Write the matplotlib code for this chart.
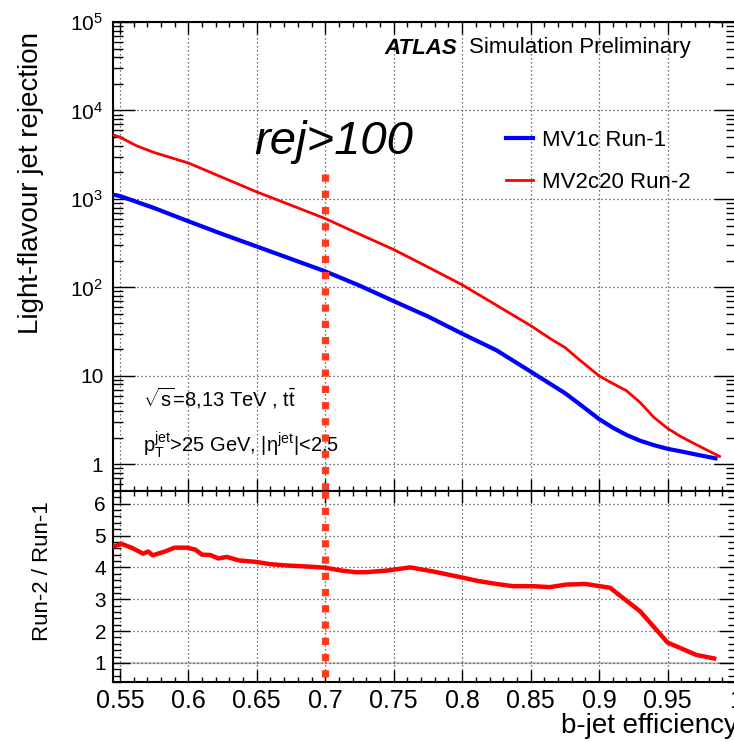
import matplotlib
matplotlib.use("Agg")
import matplotlib.pyplot as plt
from matplotlib.ticker import FixedLocator, FixedFormatter, MultipleLocator, LogLocator, NullFormatter
import numpy as np

# ---------------- data ----------------
eff = [0.545, 0.55, 0.575, 0.6, 0.625, 0.65, 0.675, 0.7, 0.725, 0.75, 0.775, 0.8,
       0.825, 0.85, 0.865, 0.875, 0.885, 0.9, 0.91, 0.92, 0.93, 0.94, 0.95, 0.96,
       0.97, 0.985]
rej_mv1c = [1120, 1080, 790, 560, 400, 290, 210, 152, 105, 70, 47, 30,
            19.5, 11.2, 8.0, 6.4, 4.9, 3.25, 2.6, 2.15, 1.85, 1.65, 1.5, 1.4,
            1.3, 1.17]
eff_mv2 = [0.545, 0.55, 0.562, 0.575, 0.6, 0.625, 0.65, 0.675, 0.7, 0.725, 0.75, 0.775, 0.8,
           0.825, 0.85, 0.865, 0.875, 0.885, 0.9, 0.91, 0.92, 0.93, 0.94, 0.95, 0.96,
           0.97, 0.988]
rej_mv2c20 = [5300, 5000, 4000, 3350, 2550, 1750, 1200, 850, 600, 400, 268, 170, 107,
              63, 37, 26, 21, 15.5, 10, 8.2, 6.8, 5.0, 3.4, 2.55, 2.05,
              1.7, 1.23]

ratio_eff = [0.545, 0.5513, 0.559, 0.567, 0.5706, 0.574, 0.583, 0.590, 0.599, 0.605,
             0.61, 0.616, 0.622, 0.628, 0.637, 0.65, 0.66, 0.672, 0.69, 0.7, 0.712,
             0.722, 0.73, 0.745, 0.762, 0.779, 0.798, 0.812, 0.825, 0.837, 0.852,
             0.864, 0.876, 0.89, 0.908, 0.93, 0.95, 0.971, 0.984]
ratio = [4.65, 4.74, 4.61, 4.43, 4.50, 4.38, 4.50, 4.62, 4.62, 4.56,
         4.40, 4.39, 4.28, 4.33, 4.22, 4.17, 4.10, 4.06, 4.02, 3.99, 3.90,
         3.85, 3.85, 3.90, 4.00, 3.87, 3.70, 3.57, 3.48, 3.41, 3.41,
         3.38, 3.46, 3.48, 3.36, 2.62, 1.64, 1.25, 1.14]

cut_eff = 0.7
cut_top = 1900

xticks = [0.55, 0.6, 0.65, 0.7, 0.75, 0.8, 0.85, 0.9, 0.95, 1.0]
xticklabels = ["0.55", "0.6", "0.65", "0.7", "0.75", "0.8", "0.85", "0.9", "0.95", "1"]
yticks_top = [1, 10, 100, 1000, 10000, 100000]
yticklabels_top = ["1", "10", r"$10^{2}$", r"$10^{3}$", r"$10^{4}$", r"$10^{5}$"]
yticks_bot = [1, 2, 3, 4, 5, 6]

# ---------------- style ----------------
plt.rcParams['font.family'] = ['Liberation Sans', 'DejaVu Sans']
plt.rcParams['mathtext.fontset'] = 'custom'
plt.rcParams['mathtext.rm'] = 'Liberation Sans'
plt.rcParams['mathtext.it'] = 'Liberation Sans:italic'
plt.rcParams['mathtext.bf'] = 'Liberation Sans:bold'

W, H = 734, 742
fig = plt.figure(figsize=(W / 100, H / 100), dpi=100)

def fx(px):
    return px / W

def fy(py):
    return 1 - py / H

left, right = 113, 736
ax = fig.add_axes([fx(left), fy(491), fx(right - left), (491 - 22) / H])
axr = fig.add_axes([fx(left), fy(682), fx(right - left), (682 - 491) / H], sharex=ax)

blue = '#0000ff'
red = '#ff0000'
cutc = '#ff3a1f'
gridkw = dict(color='#444444', linestyle=(0, (1, 2.2)), linewidth=0.9)

# top panel
ax.plot(eff, rej_mv1c, color=blue, lw=3.0, label='MV1c Run-1', zorder=3)
ax.plot(eff_mv2, rej_mv2c20, color=red, lw=2.0, label='MV2c20 Run-2', zorder=3)
ax.set_yscale('log')
ax.set_ylim(0.5, 1e5)
ax.set_xlim(0.545, 1.0)
ax.yaxis.set_major_locator(FixedLocator(yticks_top))
ax.yaxis.set_major_formatter(FixedFormatter(yticklabels_top))
ax.yaxis.set_minor_locator(LogLocator(base=10, subs=np.arange(2, 10), numticks=20))
ax.yaxis.set_minor_formatter(NullFormatter())
ax.xaxis.set_major_locator(FixedLocator(xticks))
ax.xaxis.set_minor_locator(MultipleLocator(0.01))
ax.grid(True, which='major', **gridkw)
ax.tick_params(axis='both', which='both', direction='in', top=True, right=True, width=1.0)
ax.tick_params(axis='y', which='major', length=16, labelsize=15, pad=7)
ax.tick_params(axis='y', which='minor', length=7)
ax.tick_params(axis='x', which='major', length=8.5)
ax.tick_params(axis='x', which='minor', length=3.6)
ax.tick_params(axis='x', labelbottom=False)
for s in ax.spines.values():
    s.set_linewidth(1.5)
ax.set_ylabel('Light-flavour jet rejection', fontsize=20)
ax.yaxis.set_label_coords(-(113 - 44) / (right - left), 1 - (183 - 22) / (491 - 22))

ax.plot([cut_eff, cut_eff], [cut_top, 0.5], color=cutc, lw=5.2, linestyle=(0, (1, 1.25)),
        dash_capstyle='butt', zorder=4, clip_on=False)

leg = ax.legend(loc='upper left', bbox_to_anchor=((506 - left) / (right - left), 1 - (130 - 22) / (491 - 22)),
                frameon=False, fontsize=16, handlelength=1.2, handletextpad=0.4,
                labelspacing=0.95, borderaxespad=0, borderpad=0)

ax.text(fx(384), fy(48), 'ATLAS', transform=fig.transFigure, fontsize=16,
        fontweight='bold', fontstyle='italic', va='center', ha='left')
ax.text(fx(469), fy(48), 'Simulation Preliminary', transform=fig.transFigure,
        fontsize=16, va='center', ha='left')
ax.text(fx(254), fy(142), 'rej>100', transform=fig.transFigure, fontsize=34,
        fontstyle='italic', va='center', ha='left')
ax.text(fx(143), fy(398), r'$\sqrt{\mathrm{s}}$=8,13 TeV , t$\bar{\mathrm{t}}$', transform=fig.transFigure,
        fontsize=14.5, va='center', ha='left')
ax.text(fx(143), fy(445), r'$\mathrm{p}_{\mathrm{T}}^{\mathrm{jet}}$>25 GeV, |η$^{\mathrm{jet}}$|<2.5',
        transform=fig.transFigure, fontsize=14.5, va='center', ha='left')

# ratio panel
axr.plot(ratio_eff, ratio, color=red, lw=3.2, zorder=3)
axr.axhline(1, color='#c8c8c8', lw=1.5, zorder=1)
axr.set_ylim(0.4, 6.4)
axr.yaxis.set_major_locator(FixedLocator(yticks_bot))
axr.yaxis.set_minor_locator(MultipleLocator(0.2))
axr.xaxis.set_major_locator(FixedLocator(xticks))
axr.xaxis.set_major_formatter(FixedFormatter(xticklabels))
axr.xaxis.set_minor_locator(MultipleLocator(0.01))
axr.yaxis.grid(True, which='major', **gridkw)
axr.xaxis.grid(True, which='major', **gridkw)
axr.tick_params(axis='both', which='both', direction='in', top=True, right=True, width=1.0)
axr.tick_params(axis='y', which='major', length=12, labelsize=15, pad=5)
axr.tick_params(axis='y', which='minor', length=5.8)
axr.tick_params(axis='x', which='major', length=8.5, labelsize=18, pad=5)
axr.tick_params(axis='x', which='minor', length=3.6)
for s in axr.spines.values():
    s.set_linewidth(1.5)
axr.set_ylabel('Run-2 / Run-1', fontsize=16)
axr.yaxis.set_label_coords(-(113 - 53) / (right - left), (682 - 571) / (682 - 491))
axr.plot([cut_eff, cut_eff], [6.4, 0.55], color=cutc, lw=5.2, linestyle=(0, (1, 1.25)),
         dash_capstyle='butt', zorder=4, clip_on=False)
axr.text(fx(738), fy(726), 'b-jet efficiency', transform=fig.transFigure, fontsize=20,
         va='center', ha='right')

fig.savefig('out.png', dpi=100)
